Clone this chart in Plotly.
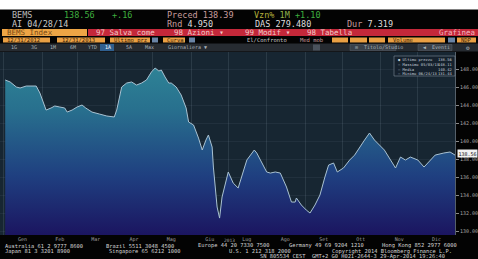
import plotly.graph_objects as go
import numpy as np

W, H = 478, 259

# ---------------- data ----------------
dates = [
    "2013-01-02", "2013-01-06", "2013-01-11", "2013-01-14", "2013-01-19", "2013-01-27", "2013-01-30",
    "2013-02-04", "2013-02-08", "2013-02-11", "2013-02-15", "2013-02-19", "2013-02-21", "2013-02-25",
    "2013-03-01", "2013-03-05", "2013-03-08", "2013-03-13", "2013-03-19", "2013-03-25", "2013-03-31",
    "2013-04-02", "2013-04-06", "2013-04-10", "2013-04-14", "2013-04-18", "2013-04-22", "2013-04-26",
    "2013-04-30", "2013-05-03", "2013-05-06", "2013-05-08", "2013-05-11", "2013-05-14", "2013-05-16",
    "2013-05-20", "2013-05-24", "2013-05-28", "2013-05-30", "2013-06-03", "2013-06-07", "2013-06-10",
    "2013-06-13", "2013-06-15", "2013-06-18", "2013-06-19", "2013-06-22", "2013-06-24", "2013-06-26",
    "2013-07-01", "2013-07-05", "2013-07-09", "2013-07-16", "2013-07-22", "2013-07-24", "2013-07-28",
    "2013-08-01", "2013-08-04", "2013-08-08", "2013-08-12", "2013-08-17", "2013-08-21", "2013-08-24",
    "2013-08-25", "2013-08-29", "2013-09-02", "2013-09-05", "2013-09-09", "2013-09-13", "2013-09-17",
    "2013-09-20", "2013-09-24", "2013-09-27", "2013-10-02", "2013-10-07", "2013-10-11", "2013-10-15",
    "2013-10-19", "2013-10-23", "2013-10-27", "2013-11-04", "2013-11-09", "2013-11-13", "2013-11-17",
    "2013-11-21", "2013-11-25", "2013-12-01", "2013-12-06", "2013-12-10", "2013-12-15", "2013-12-22",
    "2013-12-27", "2013-12-31",
]
values = [
    146.78, 146.56, 146.00, 145.89, 146.11, 146.11, 145.33,
    143.44, 143.67, 143.89, 143.78, 143.67, 143.22, 143.44,
    143.78, 144.00, 143.67, 143.22, 143.00, 142.78, 142.67,
    143.44, 146.00, 146.44, 146.56, 146.22, 146.44, 146.78,
    147.67, 148.11, 147.78, 147.89, 147.11, 146.44, 146.44,
    146.00, 145.11, 143.67, 142.11, 141.78, 140.33, 139.00,
    140.11, 140.67, 139.33, 137.11, 132.67, 131.44, 133.78,
    136.56, 135.33, 134.78, 137.89, 139.00, 138.67, 137.67,
    136.56, 136.44, 136.56, 136.44, 134.89, 133.22, 133.22,
    133.67, 132.89, 132.33, 132.00, 132.89, 134.00, 136.00,
    137.33, 137.56, 136.56, 137.00, 137.89, 138.44, 139.33,
    140.11, 140.89, 140.11, 139.00, 137.89, 137.00, 138.22,
    137.89, 138.22, 137.89, 137.11, 137.67, 138.44, 138.67,
    138.78, 138.44,
]
LAST_PRICE = 138.56
Y_TICKS = [130, 132, 134, 136, 138, 140, 142, 144, 146, 148]
Y_RANGE = [129.56, 149.89]
X_RANGE = ["2012-12-28 19:00", "2013-12-31"]
MONTH_MID = ["2013-01-16", "2013-02-15", "2013-03-16", "2013-04-16", "2013-05-16", "2013-06-16",
             "2013-07-16", "2013-08-16", "2013-09-16", "2013-10-16", "2013-11-16", "2013-12-16"]
MONTH_LABELS = ["Gen", "Feb", "Mar", "Apr", "Mag", "Giu", "Lug", "Ago", "Set", "Ott", "Nov", "Dic"]

vals = np.array(values)
i_max, i_min = int(vals.argmax()), int(vals.argmin())
def us(d):
    y, m, dd = d.split("-")
    return f"{m}/{dd}/{y[2:]}"

# ---------------- helpers ----------------
def xp(x): return x / W
def yp(y): return 1 - y / H
MONO = "DejaVu Sans Mono"

shapes, ann = [], []
def rect(x0, y0, x1, y1, color, line=None, lw=0):
    shapes.append(dict(type="rect", xref="paper", yref="paper", x0=xp(x0), x1=xp(x1),
                       y0=yp(y1), y1=yp(y0), fillcolor=color,
                       line=dict(width=lw, color=line or color), layer="above"))
def txt(x, y, s, color="#cccccc", size=8, anchor="left", family=MONO, bg=None):
    d = dict(xref="paper", yref="paper", x=xp(x), y=yp(y), text=s, showarrow=False,
             xanchor=anchor, yanchor="middle", font=dict(family=family, size=size, color=color))
    if bg:
        d["bgcolor"] = bg
    ann.append(d)

fig = go.Figure()
fig.add_trace(go.Scatter(
    x=dates, y=values, mode="lines", line=dict(color="#a9c2d2", width=1),
    fill="tozeroy",
    fillgradient=dict(type="vertical", start=Y_RANGE[0], stop=148.2,
                      colorscale=[[0, "#1b1560"], [0.35, "#1f3f80"], [0.75, "#28708e"], [1, "#2e8396"]]),
    showlegend=False, hoverinfo="skip"))

# top white strip and header
rect(0, 0, 478, 9.5, "#ffffff")
txt(10, 15.5, "BEMS", "#b8b8b8", 8.5)
txt(62, 15.5, "138.56", "#3fae3f", 8.5)
txt(110, 15.5, "+.16", "#3fae3f", 8.5)
txt(165, 15.5, "Preced 138.39", "#c79c9c", 8.5)
txt(252, 15.5, "<span style='color:#b3b13c'>Vzn%</span> <span style='color:#8fb04a'>1M</span> <span style='color:#3fae3f'>+1.10</span>", "#b3b13c", 8.5)
txt(10, 24, "AI 04/28/14", "#c8c8c8", 8.5)
txt(165, 24, "<span style='color:#c79c9c'>Rnd</span> 4.950", "#dddddd", 8.5)
txt(253, 24, "DAS 279.480", "#dddddd", 8.5)
txt(345, 24, "<span style='color:#c79c9c'>Dur</span> 7.319", "#dddddd", 8.5)

# red / orange command bar
rect(2, 29, 87, 36, "#eea545")
rect(88, 29, 478, 36, "#c4283a")
txt(5, 32.5, "BEMS Index", "#7a4a14", 7.5)
txt(94, 32.5, "97 Salva come", "#f2c8c8", 7.5)
txt(172, 32.5, "98 Azioni ▾", "#f2c8c8", 7.5)
txt(243, 32.5, "99 Modif ▾", "#f2c8c8", 7.5)
txt(305, 32.5, "98 Tabella", "#f2c8c8", 7.5)
txt(477, 32.5, "Grafinea", "#f2b8c0", 7.5, anchor="right")

# row with inputs
for x0, x1 in [(3, 50), (57, 105), (110, 150), (163, 185), (332, 348), (350, 367), (369, 385), (388, 445), (457, 476)]:
    rect(x0, 37.5, x1, 42.5, "#eaa044")
for x0, x1 in [(152, 158), (189, 195), (448, 455)]:
    rect(x0, 37.5, x1, 42.5, "#6a84a6")
txt(5, 40, "12/31/2012", "#3a2208", 5.5)
txt(60, 40, "12/31/2013", "#3a2208", 5.5)
txt(112, 40, "Ultimo prz", "#3a2208", 5.5)
txt(165, 40, "Curva", "#3a2208", 5.5)
txt(245, 40, "El/Confronto", "#c8c8c8", 5.5)
txt(298, 40, "Med mob", "#c79c9c", 5.5)
txt(391, 40, "Volume", "#3a2208", 5.5)
txt(459, 40, "NDP", "#3a2208", 5.5)

# toolbar
rect(0, 43.5, 478, 51.5, "#262b31")
rect(100, 44, 114, 51, "#2f5f8f")
for x, s in [(9, "1G"), (29, "3G"), (48, "1M"), (68, "6M"), (86, "YTD"), (103, "1A"), (124, "5A"), (143, "Max"), (166, "Giornaliera ▼")]:
    txt(x, 47.5, s, "#aab2ba" if s != "1A" else "#ffffff", 5)
rect(313, 44.5, 320, 50.5, "#4a525c")
rect(350, 44.5, 396, 50.5, "#3a4149", line="#59616a", lw=0.5)
txt(353, 47.5, "⊞  Titolo/Studio", "#aab2ba", 5)
rect(418, 44.5, 452, 50.5, "#3a4149", line="#59616a", lw=0.5)
txt(421, 47.5, "◀  Eventi", "#aab2ba", 5)
txt(468, 47.5, "⚙", "#aab2ba", 6, anchor="center")

# legend box inside plot
rect(394, 56, 455, 76, "rgba(22,33,44,0.92)", line="#7d8b99", lw=0.6)
leg_rows = [
    ("● Ultimo prezzo", f"{LAST_PRICE:.2f}"),
    (f"– Massimo {us(dates[i_max])}", f"{vals[i_max]:.2f}"),
    ("– Media", f"{vals.mean():.2f}"),
    (f"– Minimo {us(dates[i_min])}", f"{vals[i_min]:.2f}"),
]
for k, (a, b) in enumerate(leg_rows):
    yy = 60 + k * 4.6
    txt(396, yy, a, "#c8d0d8", 3.8)
    txt(454, yy, b, "#c8d0d8", 3.8, anchor="right")

# last price marker on axis
ann.append(dict(xref="paper", yref="y", x=xp(457), y=LAST_PRICE, text="138.56", showarrow=False,
                xanchor="left", yanchor="middle", bgcolor="#f2f2f2", borderpad=0.5,
                font=dict(family=MONO, size=5, color="#101010")))

# year label
txt(229, 240.2, "2013", "#a0a0a0", 4.5, anchor="center")

# footer (segments placed where the reference shows them)
FOOT = "#d4d4d4"
FS = 5.4
for x, s in [(3, "Australia 61 2 9777 8600"), (104, "Brazil 5511 3048 4500"),
             (196, "Europe 44 20 7330 7500"), (287, "Germany 49 69 9204 1210"),
             (380, "Hong Kong 852 2977 6000")]:
    txt(x, 245.8, s, FOOT, FS)
for x, s in [(3, "Japan 81 3 3201 8900"), (107, "Singapore 65 6212 1000"),
             (227, "U.S. 1 212 318 2000"), (330, "Copyright 2014 Bloomberg Finance L.P.")]:
    txt(x, 251.3, s, FOOT, FS)
txt(258, 256.7, "SN 805534 CEST  GMT+2 G0 H021-2644-3 29-Apr-2014 19:26:40", FOOT, FS)

fig.update_layout(
    width=W, height=H, margin=dict(l=0, r=0, t=0, b=0),
    paper_bgcolor="#030303", plot_bgcolor="#172632",
    shapes=shapes, annotations=ann, showlegend=False,
    xaxis=dict(domain=[0, 455 / W], range=X_RANGE, type="date",
               tickvals=MONTH_MID, ticktext=MONTH_LABELS, showgrid=False,
               tickfont=dict(family=MONO, size=5, color="#a0a0a0"), ticks="", ticklen=0,
               minor=dict(dtick="M1", tick0="2013-01-01", showgrid=True,
                          gridcolor="rgba(170,190,210,0.13)", gridwidth=0.6, ticks=""),
               zeroline=False, fixedrange=True),
    yaxis=dict(domain=[1 - 235 / H, 1 - 52 / H], range=Y_RANGE, side="right",
               tickvals=Y_TICKS, tickformat=".2f",
               tickfont=dict(family=MONO, size=5, color="#a8a8a8"),
               ticks="outside", ticklen=3, tickcolor="#8a8a8a", tickwidth=0.6,
               showgrid=True, gridcolor="rgba(170,190,210,0.07)", gridwidth=0.6,
               showline=True, linecolor="#55606a", linewidth=0.8,
               zeroline=False, fixedrange=True),
)

fig.write_html("out.html", config={"displayModeBar": False},
               post_script="document.body.style.margin='0';document.body.style.padding='0';document.body.style.overflow='hidden';")
